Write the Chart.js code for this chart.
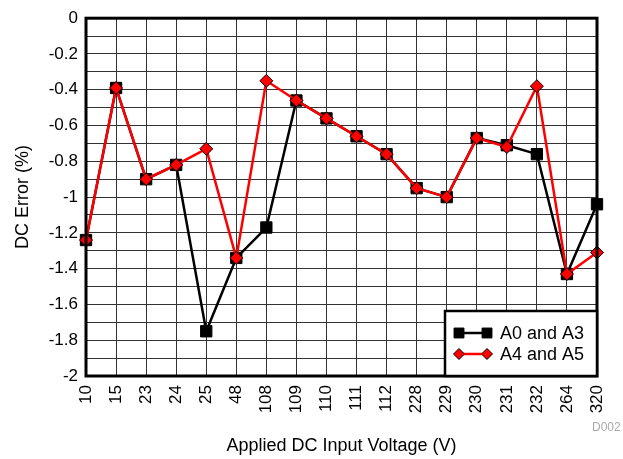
<!DOCTYPE html>
<html>
<head>
<meta charset="utf-8">
<script src="https://cdn.jsdelivr.net/npm/chart.js@4/dist/chart.umd.min.js"></script>
<style>
  html, body { margin: 0; padding: 0; background: #fff; }
  #wrap { position: relative; width: 623px; height: 459px; }
</style>
</head>
<body>
<div id="wrap"><canvas id="dcChart" width="623" height="459"></canvas></div>
<script>
const voltages = ["10", "15", "23", "24", "25", "48", "108", "109", "110", "111", "112", "228", "229", "230", "231", "232", "264", "320"];
const errA0A3 = [-1.24, -0.39, -0.90, -0.82, -1.75, -1.34, -1.17, -0.46, -0.56, -0.66, -0.76, -0.95, -1.00, -0.67, -0.71, -0.76, -1.43, -1.04];
const errA4A5 = [-1.24, -0.39, -0.90, -0.82, -0.73, -1.34, -0.35, -0.46, -0.56, -0.66, -0.76, -0.95, -1.00, -0.67, -0.72, -0.38, -1.43, -1.31];
const seriesNames = ["A0 and A3", "A4 and A5"];

const FONT = "Liberation Sans, Arial, sans-serif";

// frame around plot area plus the boxed legend in the lower right
const framePlugin = {
  id: "frame",
  afterDatasetsDraw(chart) {
    const { ctx, chartArea: a } = chart;
    ctx.save();
    ctx.strokeStyle = "#000";
    ctx.lineWidth = 3;
    ctx.strokeRect(a.left, a.top, a.right - a.left, a.bottom - a.top);

    const bx = 445, by = 311, bw = a.right - bx, bh = a.bottom - by;
    ctx.fillStyle = "#fff";
    ctx.fillRect(bx, by, bw, bh);
    ctx.lineWidth = 2.5;
    ctx.strokeRect(bx, by, bw, bh);

    chart.data.datasets.forEach((ds, i) => {
      const y = 333 + i * 21;
      ctx.strokeStyle = ds.borderColor;
      ctx.lineWidth = 2.5;
      ctx.beginPath();
      ctx.moveTo(457, y);
      ctx.lineTo(489, y);
      ctx.stroke();
      [459, 487].forEach((x) => {
        ctx.fillStyle = ds.pointBackgroundColor;
        ctx.strokeStyle = ds.pointBorderColor;
        ctx.lineWidth = 1;
        Chart.helpers.drawPoint(ctx, {
          pointStyle: ds.pointStyle,
          radius: ds.pointRadius - 1,
          borderWidth: 1
        }, x, y);
      });
      ctx.fillStyle = "#000";
      ctx.font = "18px " + FONT;
      ctx.textBaseline = "middle";
      ctx.textAlign = "left";
      ctx.fillText(ds.label, 500, y + 1);
    });

    ctx.fillStyle = "#aaa";
    ctx.font = "12px " + FONT;
    ctx.textAlign = "left";
    ctx.textBaseline = "alphabetic";
    ctx.fillText("D002", 592, 431);
    ctx.restore();
  }
};

const chart = new Chart(document.getElementById("dcChart"), {
  type: "line",
  data: {
    labels: voltages,
    datasets: [
      {
        label: seriesNames[0],
        data: errA0A3,
        order: 1,
        borderColor: "#000",
        backgroundColor: "#000",
        pointBackgroundColor: "#000",
        pointBorderColor: "#000",
        borderWidth: 2.5,
        pointStyle: "rect",
        pointRadius: 8,
        pointBorderWidth: 1,
        tension: 0
      },
      {
        label: seriesNames[1],
        data: errA4A5,
        order: 0,
        borderColor: "#ff0000",
        backgroundColor: "#ff0000",
        pointBackgroundColor: "#ff0000",
        pointBorderColor: "#000",
        borderWidth: 2.5,
        pointStyle: "rectRot",
        pointRadius: 6.5,
        pointBorderWidth: 1,
        tension: 0
      }
    ]
  },
  options: {
    responsive: false,
    animation: false,
    events: [],
    layout: { padding: { top: 16, right: 26, left: 0, bottom: 0 } },
    plugins: {
      legend: { display: false },
      tooltip: { enabled: false }
    },
    scales: {
      x: {
        offset: false,
        afterFit: (scale) => {
          scale.height = 83;
          scale.paddingLeft = 0;
          scale.paddingRight = 0;
        },
        grid: { color: "#333", lineWidth: 1, drawTicks: false },
        border: { display: false },
        ticks: {
          color: "#000",
          font: { family: FONT, size: 17 },
          minRotation: 90,
          maxRotation: 90,
          autoSkip: false,
          padding: 9
        },
        title: {
          display: true,
          text: "Applied DC Input Voltage (V)",
          color: "#000",
          font: { family: FONT, size: 18 },
          padding: { top: 0, bottom: 2 }
        }
      },
      y: {
        min: -2,
        max: 0,
        afterFit: (scale) => { scale.width = 86; },
        grid: { color: "#333", lineWidth: 1, drawTicks: false },
        border: { display: false },
        ticks: {
          stepSize: 0.1,
          maxTicksLimit: 30,
          autoSkip: false,
          color: "#000",
          font: { family: FONT, size: 17 },
          padding: 8,
          callback: (v) => {
            const n = Math.round(v * 10);
            if (n % 2 !== 0) return "";
            return String(n / 10);
          }
        },
        title: {
          display: true,
          text: "DC Error (%)",
          color: "#000",
          font: { family: FONT, size: 18 },
          padding: { top: 12, bottom: 4 }
        }
      }
    }
  },
  plugins: [framePlugin]
});
</script>
</body>
</html>
